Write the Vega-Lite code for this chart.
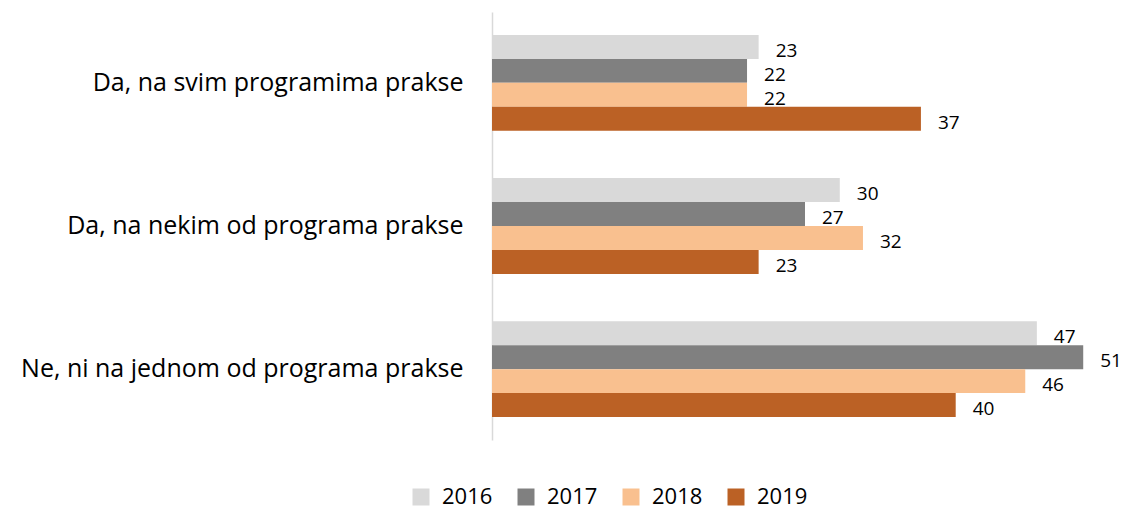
{
  "$schema": "https://vega.github.io/schema/vega-lite/v6.json",
  "width": 626,
  "height": 428,
  "autosize": {"type": "none"},
  "padding": {"left": 492, "top": 12, "right": 10, "bottom": 69},
  "background": "white",
  "config": {"view": {"stroke": null}, "font": "Open Sans"},
  "data": {"values": [
    {"kat": "Da, na svim programima prakse", "godina": "2016", "v": 23},
    {"kat": "Da, na svim programima prakse", "godina": "2017", "v": 22},
    {"kat": "Da, na svim programima prakse", "godina": "2018", "v": 22},
    {"kat": "Da, na svim programima prakse", "godina": "2019", "v": 37},
    {"kat": "Da, na nekim od programa prakse", "godina": "2016", "v": 30},
    {"kat": "Da, na nekim od programa prakse", "godina": "2017", "v": 27},
    {"kat": "Da, na nekim od programa prakse", "godina": "2018", "v": 32},
    {"kat": "Da, na nekim od programa prakse", "godina": "2019", "v": 23},
    {"kat": "Ne, ni na jednom od programa prakse", "godina": "2016", "v": 47},
    {"kat": "Ne, ni na jednom od programa prakse", "godina": "2017", "v": 51},
    {"kat": "Ne, ni na jednom od programa prakse", "godina": "2018", "v": 46},
    {"kat": "Ne, ni na jednom od programa prakse", "godina": "2019", "v": 40}
  ]},
  "encoding": {
    "y": {
      "field": "kat", "type": "nominal", "sort": null,
      "scale": {"paddingInner": 0.33, "paddingOuter": 0.16},
      "axis": {"title": null, "ticks": false, "labelFontSize": 25, "labelColor": "#000000", "labelPadding": 29, "domainColor": "#d9d9d9", "domainWidth": 1.5, "labelLimit": 500, "grid": false}
    },
    "yOffset": {"field": "godina", "type": "nominal", "sort": ["2016", "2017", "2018", "2019"]},
    "x": {"field": "v", "type": "quantitative", "scale": {"domain": [0, 54], "nice": false}, "axis": null}
  },
  "layer": [
    {
      "mark": {"type": "bar"},
      "encoding": {
        "color": {
          "field": "godina", "type": "nominal",
          "scale": {"domain": ["2016", "2017", "2018", "2019"], "range": ["#D9D9D9", "#808080", "#F9C08F", "#BB6125"]},
          "legend": {
            "title": null, "orient": "none", "direction": "horizontal",
            "legendX": -82, "legendY": 474,
            "symbolType": "square", "symbolSize": 289, "symbolStrokeWidth": 0,
            "labelFontSize": 22, "labelColor": "#000000", "columnPadding": 22, "labelOffset": 10, "labelLimit": 200
          }
        }
      }
    },
    {
      "mark": {"type": "text", "align": "left", "dx": 17, "dy": 4, "fontSize": 19, "color": "#000000"},
      "encoding": {"text": {"field": "v", "type": "quantitative"}}
    }
  ]
}
